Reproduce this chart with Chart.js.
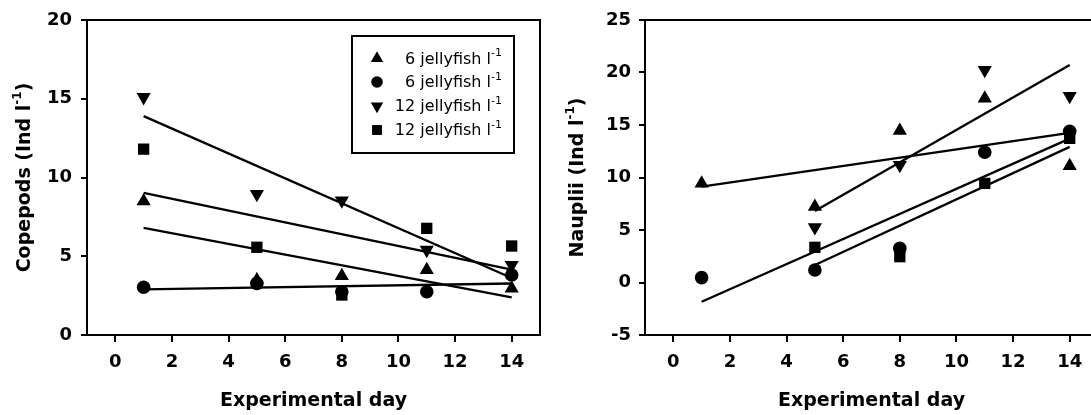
<!DOCTYPE html>
<html><head><meta charset="utf-8">
<script src="https://cdn.jsdelivr.net/npm/chart.js@4/dist/chart.umd.min.js"></script>
<style>
html,body{margin:0;padding:0;background:#fff;width:1091px;height:415px;overflow:hidden;position:relative}
.wrap{position:absolute;top:0;width:560px;height:415px}
#w1{left:0}
#w2{left:558px}
canvas{display:block}
</style></head><body>
<div class="wrap" id="w1"><canvas id="c1" width="560" height="415"></canvas></div>
<div class="wrap" id="w2"><canvas id="c2" width="560" height="415"></canvas></div>
<script>
// ---- data ----
const days = [1, 5, 8, 11, 14];
const fitDaysAll = [1, 14];
const fitDaysLate = [5, 14];
const xTicks = [0, 2, 4, 6, 8, 10, 12, 14];
const copYTicks = [0, 5, 10, 15, 20];
const naupYTicks = [-5, 0, 5, 10, 15, 20, 25];
const seriesNames = ['6 jellyfish l', '6 jellyfish l', '12 jellyfish l', '12 jellyfish l'];
const unitSup = '-1';
const xTitle = 'Experimental day';
const copTitle = ['Copepods (Ind l', '-1', ')'];
const naupTitle = ['Nauplii (Ind l', '-1', ')'];

// Copepods
const copTri  = [8.5, 3.49, 3.75, 4.13, 2.96];
const copCirc = [3.03, 3.28, 2.75, 2.75, 3.81];
const copDown = [15.1, 8.95, 8.53, 5.4, 4.44];
const copSq   = [11.8, 5.57, 2.54, 6.77, 5.65];
const copTriFit  = [6.8, 2.39];
const copCircFit = [2.9, 3.27];
const copDownFit = [13.9, 3.62];
const copSqFit   = [9.03, 4.15];

// Nauplii
const naupTri  = [9.44, 7.22, 14.46, 17.54, 11.1];
const naupCirc = [0.46, 1.19, 3.25, 12.4, 14.4];
const naupDown = [null, 5.25, 11.19, 20.24, 17.76];
const naupSq   = [null, 3.35, 2.46, 9.44, 13.73];
const naupTriFit  = [9.13, 14.25];
const naupCircFit = [-1.83, 13.7];
const naupDownFit = [6.81, 20.71];
const naupSqFit   = [1.67, 12.92];

// ---- styles ----
const FONT = "'DejaVu Sans', 'Liberation Sans', Arial, sans-serif";
const markers = [
  {pointStyle: 'triangle', rotation: 0, radius: 8.2},
  {pointStyle: 'circle', rotation: 0, radius: 6.8},
  {pointStyle: 'triangle', rotation: 180, radius: 8.2},
  {pointStyle: 'rect', rotation: 0, radius: 8}
];

function pts(xs, ys) {
  const out = [];
  xs.forEach((x, i) => { if (ys[i] !== null && ys[i] !== undefined) out.push({x: x, y: ys[i]}); });
  return out;
}

function pointDs(label, data, m) {
  return {label, data, pointStyle: m.pointStyle, rotation: m.rotation, pointRadius: m.radius,
    backgroundColor: '#000', borderColor: '#000', borderWidth: 0, showLine: false};
}
function lineDs(data) {
  return {label: '', data, showLine: true, pointRadius: 0, borderColor: '#000', borderWidth: 2.3, fill: false};
}

const framePlugin = {
  id: 'frame',
  afterDatasetsDraw(chart) {
    const a = chart.chartArea, ctx = chart.ctx;
    ctx.save();
    ctx.strokeStyle = '#000'; ctx.lineWidth = 2;
    ctx.strokeRect(a.left, a.top, a.right - a.left, a.bottom - a.top);
    ctx.restore();
  }
};

function yTitlePlugin(parts, cx) {
  return {
    id: 'ytitle',
    afterDraw(chart) {
      const ctx = chart.ctx, a = chart.chartArea;
      const cy = (a.top + a.bottom) / 2;
      const big = "bold 19px " + FONT, small = "bold 12px " + FONT;
      ctx.save();
      ctx.font = big; const w0 = ctx.measureText(parts[0]).width; const w2 = ctx.measureText(parts[2]).width;
      ctx.font = small; const w1 = ctx.measureText(parts[1]).width;
      const total = w0 + w1 + w2;
      ctx.translate(cx, cy); ctx.rotate(-Math.PI / 2);
      ctx.fillStyle = '#000'; ctx.textBaseline = 'middle'; ctx.textAlign = 'left';
      let x = -total / 2;
      ctx.font = big; ctx.fillText(parts[0], x, 0); x += w0;
      ctx.font = small; ctx.fillText(parts[1], x, -7); x += w1;
      ctx.font = big; ctx.fillText(parts[2], x, 0);
      ctx.restore();
    }
  };
}

const legendPlugin = {
  id: 'boxlegend',
  afterDraw(chart) {
    const ctx = chart.ctx;
    const box = {l: 352, t: 36, r: 514, b: 153};
    const rows = [58.5, 82, 106, 130];
    ctx.save();
    ctx.strokeStyle = '#000'; ctx.lineWidth = 2;
    ctx.strokeRect(box.l, box.t, box.r - box.l, box.b - box.t);
    const big = "16px " + FONT, small = "11px " + FONT;
    ctx.font = small; const supW = ctx.measureText(unitSup).width;
    seriesNames.forEach((name, i) => {
      const m = markers[i];
      ctx.fillStyle = '#000'; ctx.strokeStyle = '#000'; ctx.lineWidth = 0;
      Chart.helpers.drawPoint(ctx, {pointStyle: m.pointStyle, rotation: m.rotation, radius: m.radius - 1, borderWidth: 0}, 377, rows[i]);
      ctx.fillStyle = '#000';
      ctx.textBaseline = 'middle';
      ctx.font = big; ctx.textAlign = 'right';
      ctx.fillText(name, 502 - supW, rows[i] + 1);
      ctx.font = small; ctx.textAlign = 'left';
      ctx.fillText(unitSup, 502 - supW, rows[i] - 5);
    });
    ctx.restore();
  }
};

function makeChart(id, sets, yMin, yMax, yTicks, titleParts, titleX, withLegend, yPad) {
  const datasets = [];
  sets.points.forEach((ys, i) => datasets.push(pointDs(seriesNames[i], pts(days, ys), markers[i])));
  sets.fits.forEach(f => datasets.push(lineDs(pts(f.x, f.y))));
  const plugins = [framePlugin, yTitlePlugin(titleParts, titleX)];
  if (withLegend) plugins.push(legendPlugin);
  return new Chart(document.getElementById(id), {
    type: 'scatter',
    data: {datasets},
    plugins,
    options: {
      responsive: false, animation: false,
      layout: {padding: {left: 0, right: 20, top: 20, bottom: 0}},
      plugins: {legend: {display: false}, tooltip: {enabled: false}},
      scales: {
        x: {
          type: 'linear', min: -1, max: 15,
          afterBuildTicks: s => { s.ticks = xTicks.map(v => ({value: v})); },
          afterFit: s => { s.height = 80; },
          grid: {drawOnChartArea: false, drawTicks: true, tickLength: 7, color: '#000', lineWidth: 2},
          border: {display: true, color: '#000', width: 2},
          ticks: {color: '#000', font: {family: FONT, size: 18, weight: 'bold'}, padding: 10, maxRotation: 0, autoSkip: false},
          title: {display: true, text: xTitle, color: '#000', font: {family: FONT, size: 19, weight: 'bold'}, padding: {top: 0, bottom: 3}}
        },
        y: {
          type: 'linear', min: yMin, max: yMax,
          afterBuildTicks: s => { s.ticks = yTicks.map(v => ({value: v})); },
          afterFit: s => { s.width = 87; },
          grid: {drawOnChartArea: false, drawTicks: true, tickLength: 6, color: '#000', lineWidth: 2},
          border: {display: true, color: '#000', width: 2},
          ticks: {color: '#000', font: {family: FONT, size: 18, weight: 'bold'}, padding: yPad, autoSkip: false}
        }
      }
    }
  });
}

makeChart('c1', {
  points: [copTri, copCirc, copDown, copSq],
  fits: [
    {x: fitDaysAll, y: copTriFit}, {x: fitDaysAll, y: copCircFit},
    {x: fitDaysAll, y: copDownFit}, {x: fitDaysAll, y: copSqFit}
  ]
}, 0, 20, copYTicks, copTitle, 25, true, 9);

makeChart('c2', {
  points: [naupTri, naupCirc, naupDown, naupSq],
  fits: [
    {x: fitDaysAll, y: naupTriFit}, {x: fitDaysAll, y: naupCircFit},
    {x: fitDaysLate, y: naupDownFit}, {x: fitDaysLate, y: naupSqFit}
  ]
}, -5, 25, naupYTicks, naupTitle, 20, false, 8);
</script>
</body></html>
